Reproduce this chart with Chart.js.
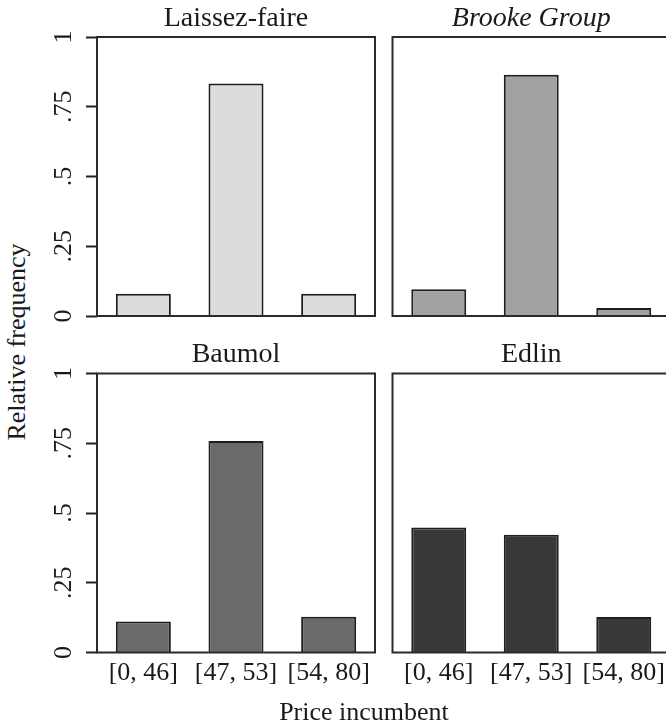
<!DOCTYPE html>
<html>
<head>
<meta charset="utf-8">
<script src="https://cdn.jsdelivr.net/npm/chart.js@4"></script>
<style>
  html, body { margin: 0; padding: 0; background: #ffffff; width: 666px; height: 725px; overflow: hidden; }
  body { position: relative; font-family: 'Liberation Serif', 'Times New Roman', serif; color: #1a1a1a; }
  canvas { position: absolute; }
  .ylab { position: absolute; left: 17px; top: 342px; font-size: 26px; white-space: nowrap;
          transform: translate(-50%, -50%) rotate(-90deg); line-height: 1; }
  .xlab { position: absolute; left: 364px; top: 712px; font-size: 26px; white-space: nowrap;
          transform: translate(-50%, -50%); line-height: 1; }
</style>
</head>
<body>
<canvas id="c1" width="344" height="330" style="left:40px;top:0px;"></canvas>
<canvas id="c2" width="294" height="330" style="left:380px;top:0px;"></canvas>
<canvas id="c3" width="344" height="389" style="left:40px;top:336px;"></canvas>
<canvas id="c4" width="294" height="389" style="left:380px;top:336px;"></canvas>
<div class="ylab">Relative frequency</div>
<div class="xlab">Price incumbent</div>
<script>
// ---- data ----
const categories = ['[0, 46]', '[47, 53]', '[54, 80]'];
const panelTitles = ['Laissez-faire', 'Brooke Group', 'Baumol', 'Edlin'];
const laissezFaire = [0.080, 0.833, 0.080];
const brookeGroup  = [0.096, 0.865, 0.029];
const baumol       = [0.111, 0.758, 0.128];
const edlin        = [0.448, 0.422, 0.127];
const yTickValues  = [0, 0.25, 0.5, 0.75, 1];
const yTickLabels  = ['0', '.25', '.5', '.75', '1'];
const xAxisTitle = 'Price incumbent';
const yAxisTitle = 'Relative frequency';

const FONT = "'Liberation Serif', 'Times New Roman', serif";
const INK = '#1a1a1a';

const framePlugin = {
  id: 'frame',
  afterDatasetsDraw(chart) {
    const a = chart.chartArea, ctx = chart.ctx;
    ctx.save();
    ctx.strokeStyle = '#2a2a2a';
    ctx.lineWidth = 2;
    ctx.strokeRect(a.left, a.top, a.right - a.left, a.bottom - a.top);
    ctx.restore();
  }
};

function makePanel(id, opts) {
  const showY = opts.showY, showX = opts.showX;
  return new Chart(document.getElementById(id), {
    type: 'bar',
    data: {
      labels: categories,
      datasets: [{
        data: opts.values,
        backgroundColor: opts.color,
        borderColor: '#1e1e1e',
        borderWidth: 2,
        barPercentage: 0.594,
        categoryPercentage: 1.0
      }]
    },
    options: {
      responsive: false,
      animation: false,
      devicePixelRatio: 1,
      layout: { padding: { left: 0, right: opts.padRight, top: 0, bottom: 0 } },
      plugins: {
        legend: { display: false },
        tooltip: { enabled: false },
        title: {
          display: true,
          text: opts.title,
          fullSize: false,
          color: INK,
          font: { family: FONT, size: 28, weight: 'normal', style: opts.italic ? 'italic' : 'normal' },
          padding: { top: 2, bottom: opts.titlePadBottom }
        }
      },
      scales: {
        x: {
          display: true,
          offset: true,
          grid: { display: false, drawTicks: false },
          border: { display: false },
          ticks: {
            display: showX,
            color: INK,
            padding: 5,
            maxRotation: 0,
            minRotation: 0,
            autoSkip: false,
            font: { family: FONT, size: 26 }
          },
          afterFit(s) {
            s.height = opts.xHeight;
            s.paddingLeft = 0; s.paddingRight = 0;
          }
        },
        y: {
          display: true,
          min: 0,
          max: 1,
          afterBuildTicks(s) { s.ticks = yTickValues.map(v => ({ value: v })); },
          grid: {
            display: showY,
            drawOnChartArea: false,
            drawTicks: showY,
            tickLength: 11,
            tickWidth: 2,
            tickColor: '#222222'
          },
          border: { display: false },
          ticks: {
            display: showY,
            color: INK,
            padding: 6,
            minRotation: 90,
            maxRotation: 90,
            crossAlign: 'center',
            font: { family: FONT, size: 26 },
            callback(v, i) { return yTickLabels[i]; }
          },
          afterFit(s) {
            s.width = opts.yWidth;
            s.paddingTop = 0; s.paddingBottom = 0;
          }
        }
      }
    },
    plugins: [framePlugin]
  });
}

makePanel('c1', { values: laissezFaire, color: '#dcdcdc', title: panelTitles[0], italic: false,
  showY: true, showX: false, yWidth: 57, padRight: 9, xHeight: 14, titlePadBottom: 1.4 });
makePanel('c2', { values: brookeGroup, color: '#a1a1a1', title: panelTitles[1], italic: true,
  showY: false, showX: false, yWidth: 12.5, padRight: 4, xHeight: 14, titlePadBottom: 1.4 });
makePanel('c3', { values: baumol, color: '#6a6a6a', title: panelTitles[2], italic: false,
  showY: true, showX: true, yWidth: 57, padRight: 9, xHeight: 72.5, titlePadBottom: 1.9 });
makePanel('c4', { values: edlin, color: '#383838', title: panelTitles[3], italic: false,
  showY: false, showX: true, yWidth: 12.5, padRight: 4, xHeight: 72.5, titlePadBottom: 1.9 });
</script>
</body>
</html>
